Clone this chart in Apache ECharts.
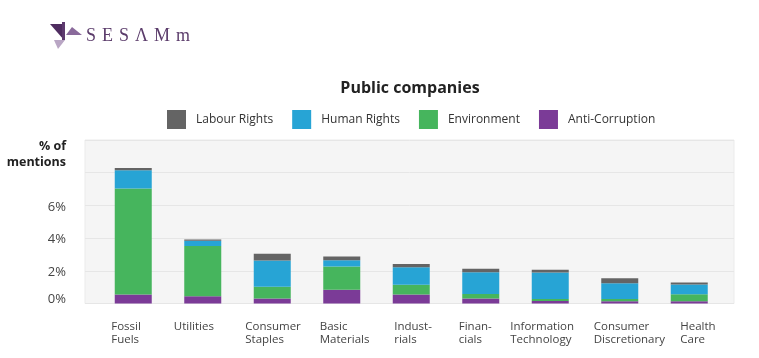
<!DOCTYPE html>
<html>
<head>
<meta charset="utf-8">
<style>
html,body{margin:0;padding:0;background:#fff;}
#chart{width:759px;height:358px;}
</style>
<script src="https://cdn.jsdelivr.net/npm/echarts@6/dist/echarts.min.js"></script>
</head>
<body>
<div id="chart"></div>
<script>
// ---- Data (percent of mentions) ----
const categories = ['Fossil\nFuels', 'Utilities', 'Consumer\nStaples', 'Basic\nMaterials', 'Indust-\nrials', 'Finan-\ncials', 'Information\nTechnology', 'Consumer\nDiscretionary', 'Health\nCare'];
const antiCorruption = [0.55, 0.45, 0.31, 0.84, 0.55, 0.31, 0.16, 0.14, 0.14];
const environment    = [6.48, 3.06, 0.71, 1.43, 0.59, 0.27, 0.12, 0.14, 0.43];
const humanRights    = [1.12, 0.33, 1.61, 0.37, 1.08, 1.33, 1.61, 0.96, 0.59];
const labourRights   = [0.14, 0.08, 0.41, 0.24, 0.20, 0.22, 0.18, 0.31, 0.12];
const yTicks = [0, 2, 4, 6];

const labelPad = [18, 11, 13, 18, 23, 18, 0, 14, 31];

const colors = {
  labour: '#646464',
  human: '#27a4d5',
  env: '#46b55d',
  anti: '#7b3b97'
};
const FONT = '"Open Sans", "DejaVu Sans", sans-serif';

const chart = echarts.init(document.getElementById('chart'), null, {renderer: 'canvas'});

const rich = {};
labelPad.forEach((p, i) => {
  rich['p' + i] = {padding: [0, 0, 0, p], fontSize: 11.5, lineHeight: 13.5, color: '#444', fontFamily: FONT};
});

const option = {
  animation: false,
  backgroundColor: '#ffffff',
  title: {
    text: 'Public companies',
    left: 405,
    textAlign: 'center',
    top: 75,
    textStyle: {fontFamily: FONT, fontSize: 16, fontWeight: 'bold', color: '#222'}
  },
  legend: {
    left: 162,
    top: 105,
    itemWidth: 19,
    itemHeight: 19,
    itemGap: 19,
    icon: 'rect',
    data: ['Labour Rights', 'Human Rights', 'Environment', 'Anti-Corruption'],
    textStyle: {fontFamily: FONT, fontSize: 12, color: '#333', padding: [0, 0, 0, 5]}
  },
  grid: [
    {left: 85, right: 25, top: 140, bottom: 54.5, show: true, backgroundColor: '#f5f5f5', borderColor: '#ebebeb', borderWidth: 1},
    {left: 98.5, right: 35, top: 140, bottom: 54.5},
    {left: 58.5, right: 75, top: 140, bottom: 54.5}
  ],
  xAxis: [
    {gridIndex: 0, type: 'category', data: categories, show: false},
    {gridIndex: 1, type: 'category', data: categories, axisLine: {show: false}, axisTick: {show: false}, axisLabel: {show: false}},
    {gridIndex: 2, type: 'category', data: categories, axisLine: {show: false}, axisTick: {show: false},
      axisLabel: {
        show: true, interval: 0, align: 'left', verticalAlign: 'top', margin: 16,
        formatter: function (v, i) {
          return v.split('\n').map(l => '{p' + i + '|' + l + '}').join('\n');
        },
        rich: rich
      }
    }
  ],
  yAxis: [
    {gridIndex: 0, type: 'value', min: 0, max: 10, interval: 2,
      name: '% of\nmentions', nameLocation: 'end', nameGap: 2,
      nameTextStyle: {fontFamily: FONT, fontSize: 12.5, fontWeight: 'bold', color: '#222', align: 'right', verticalAlign: 'top', lineHeight: 16, padding: [0, 19, 0, 0]},
      axisLine: {show: false}, axisTick: {show: false},
      splitLine: {show: true, lineStyle: {color: '#e6e6e6', width: 1}},
      axisLabel: {
        margin: 19, fontFamily: FONT, fontSize: 13, color: '#444',
        formatter: function (v) {
          if (yTicks.indexOf(v) < 0) return '';
          if (v === 0) return '{z|0%}';
          return '{n|' + v + '%}';
        },
        rich: {
          z: {fontFamily: FONT, fontSize: 13, color: '#444', padding: [0, 0, 8, 0]},
          n: {fontFamily: FONT, fontSize: 13, color: '#444', padding: [3, 0, 0, 0]}
        }
      }
    },
    {gridIndex: 1, type: 'value', min: 0, max: 10, interval: 2, show: false, splitLine: {show: false}},
    {gridIndex: 2, type: 'value', min: 0, max: 10, interval: 2, show: false, splitLine: {show: false}}
  ],
  series: [
    {name: 'Anti-Corruption', type: 'bar', stack: 'a', xAxisIndex: 1, yAxisIndex: 1, barWidth: 37, data: antiCorruption, itemStyle: {color: colors.anti}},
    {name: 'Environment', type: 'bar', stack: 'a', xAxisIndex: 1, yAxisIndex: 1, barWidth: 37, data: environment, itemStyle: {color: colors.env}},
    {name: 'Human Rights', type: 'bar', stack: 'a', xAxisIndex: 1, yAxisIndex: 1, barWidth: 37, data: humanRights, itemStyle: {color: colors.human}},
    {name: 'Labour Rights', type: 'bar', stack: 'a', xAxisIndex: 1, yAxisIndex: 1, barWidth: 37, data: labourRights, itemStyle: {color: colors.labour}}
  ],
  graphic: [
    {type: 'polygon', shape: {points: [[50, 24], [64, 24], [64, 40]]}, style: {fill: '#4f2c60'}},
    {type: 'rect', shape: {x: 62, y: 22, width: 3, height: 18}, style: {fill: '#5d3a6e'}},
    {type: 'polygon', shape: {points: [[66, 35], [82, 35], [72, 27]]}, style: {fill: '#8a6a9b'}},
    {type: 'polygon', shape: {points: [[54, 40], [65, 40], [58, 49]]}, style: {fill: '#b9a6c4'}},
    {type: 'text', left: 86, top: 27, style: {text: 'S\u2004E\u2004S\u2004\u039B\u2004M\u2004m', fontFamily: '"Liberation Serif", "DejaVu Serif", serif', fontSize: 18, fill: '#5b3c6b'}}
  ]
};
chart.setOption(option);
</script>
</body>
</html>
